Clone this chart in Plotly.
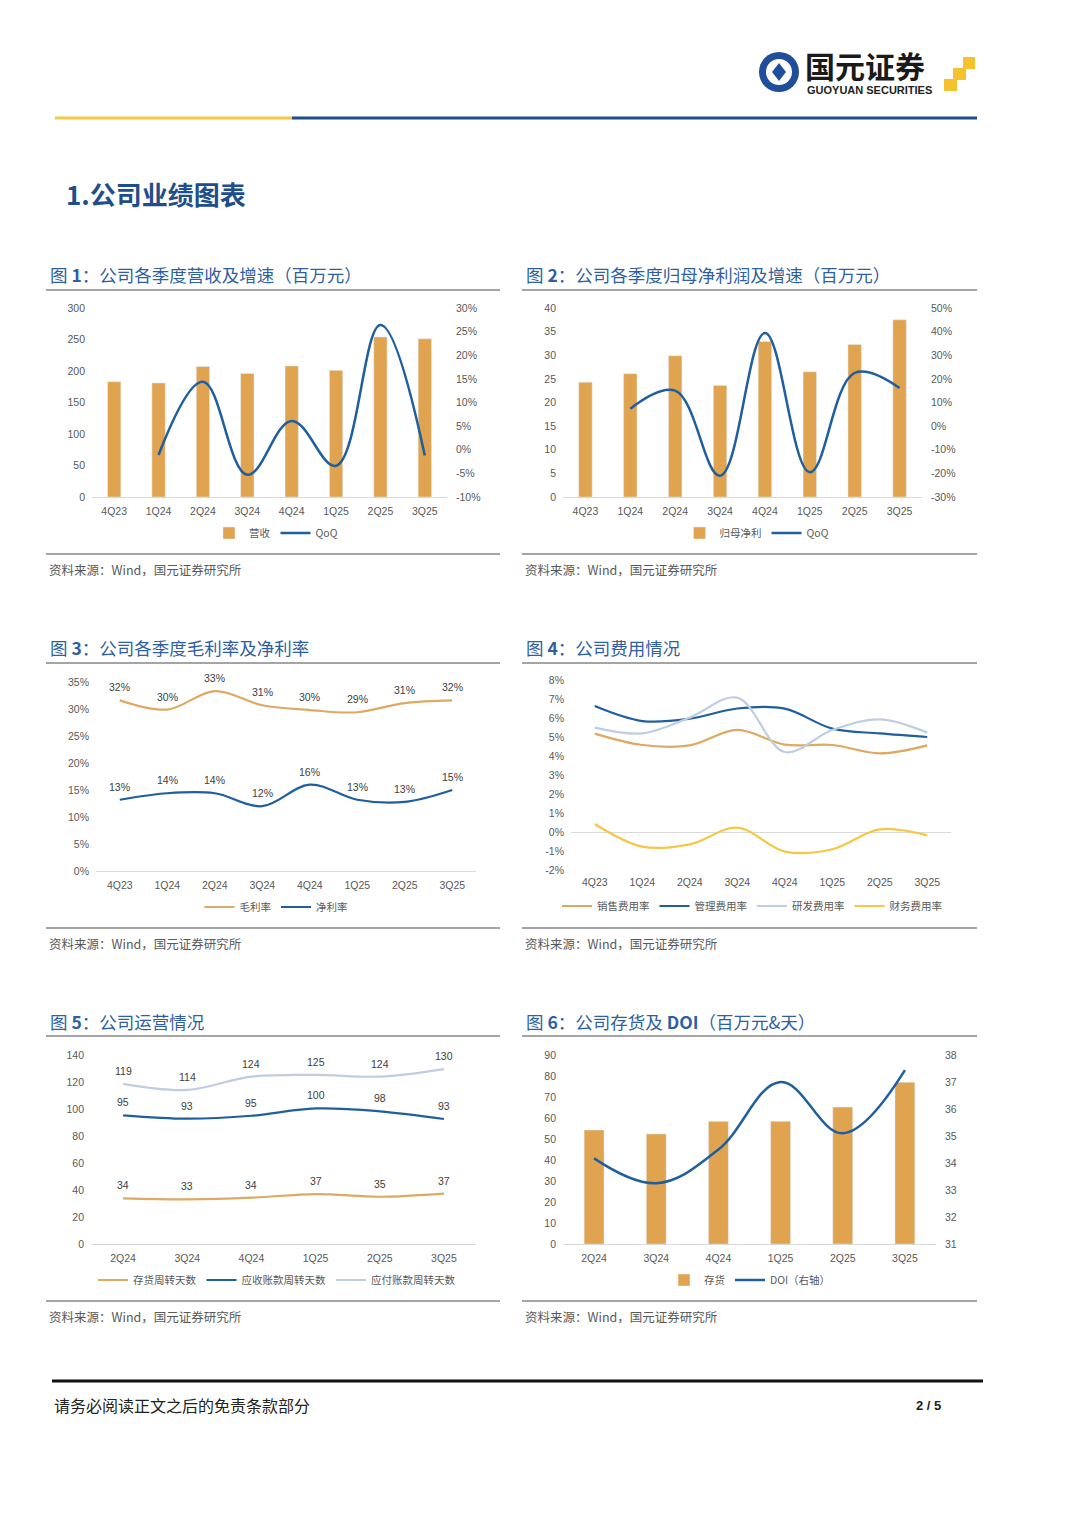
import plotly.graph_objects as go

# The page body keeps an 8px margin, so the figure is drawn 8px in and sized to fit.
OFF = 8
W, H = 1080 - OFF, 1527 - 2 * OFF


def px(x):
    return (x - OFF) / W


def py(y):
    return 1 - (y - OFF) / H


# ---------------- data ----------------
quarters8 = ["4Q23", "1Q24", "2Q24", "3Q24", "4Q24", "1Q25", "2Q25", "3Q25"]
quarters6 = ["2Q24", "3Q24", "4Q24", "1Q25", "2Q25", "3Q25"]

revenue = [183, 181, 207, 196, 208, 201, 254, 251]
revenue_qoq = [None, -0.011, 0.144, -0.053, 0.061, -0.034, 0.264, -0.012]

net_profit = [24.3, 26.1, 29.9, 23.6, 32.9, 26.5, 32.3, 37.5]
net_profit_qoq = [None, 0.074, 0.150, -0.210, 0.394, -0.195, 0.225, 0.161]

gross_margin = [0.316, 0.299, 0.333, 0.307, 0.298, 0.294, 0.311, 0.316]
net_margin = [0.132, 0.144, 0.144, 0.120, 0.160, 0.132, 0.128, 0.150]

sales_exp = [0.0518, 0.0458, 0.0456, 0.0537, 0.0460, 0.0458, 0.0414, 0.0456]
admin_exp = [0.0663, 0.0584, 0.0596, 0.0650, 0.0649, 0.0544, 0.0519, 0.0500]
rnd_exp = [0.0549, 0.0519, 0.0602, 0.0707, 0.0421, 0.0537, 0.0593, 0.0523]
fin_exp = [0.0042, -0.0077, -0.0065, 0.0023, -0.0103, -0.0091, 0.0014, -0.0018]

inv_days = [33.8, 33.1, 34.3, 37.0, 35.0, 37.3]
ar_days = [95.3, 92.8, 95.0, 100.4, 98.3, 92.6]
ap_days = [118.6, 114.1, 124.0, 125.3, 124.0, 129.6]

inventory = [54.3, 52.4, 58.4, 58.4, 65.2, 77.0]
doi = [34.17, 33.25, 34.5, 37.0, 35.1, 37.44]

# tick labels
c1_right_vals = [-0.10, -0.05, 0, 0.05, 0.10, 0.15, 0.20, 0.25, 0.30]
c1_right_text = ["-10%", "-5%", "0%", "5%", "10%", "15%", "20%", "25%", "30%"]
c2_right_vals = [-0.3, -0.2, -0.1, 0, 0.1, 0.2, 0.3, 0.4, 0.5]
c2_right_text = ["-30%", "-20%", "-10%", "0%", "10%", "20%", "30%", "40%", "50%"]
c3_vals = [0, 0.05, 0.10, 0.15, 0.20, 0.25, 0.30, 0.35]
c3_text = ["0%", "5%", "10%", "15%", "20%", "25%", "30%", "35%"]
c4_vals = [-0.02, -0.01, 0, 0.01, 0.02, 0.03, 0.04, 0.05, 0.06, 0.07, 0.08]
c4_text = ["-2%", "-1%", "0%", "1%", "2%", "3%", "4%", "5%", "6%", "7%", "8%"]

titles = [
    "图 <b>1</b>：公司各季度营收及增速（百万元）",
    "图 <b>2</b>：公司各季度归母净利润及增速（百万元）",
    "图 <b>3</b>：公司各季度毛利率及净利率",
    "图 <b>4</b>：公司费用情况",
    "图 <b>5</b>：公司运营情况",
    "图 <b>6</b>：公司存货及 <b>DOI</b>（百万元&天）",
]
source_text = "资料来源：Wind，国元证券研究所"

# ---------------- styles ----------------
BAR = "#E0A34F"
BLUE = "#1F5F9E"
TAN = "#DDAA62"
LIGHT = "#BFCDE2"
YELLOW = "#F4C846"
TICK = dict(family="Liberation Sans, Arial", size=10.5, color="#595959")
CJK = "Noto Sans CJK SC"
TITLE_C = "#2F5FA0"

fig = go.Figure()

# chart 1
fig.add_trace(go.Bar(x=quarters8, y=revenue, name="营收", marker_color=BAR, width=0.3,
                     xaxis="x", yaxis="y", legend="legend"))
fig.add_trace(go.Scatter(x=quarters8, y=revenue_qoq, name="QoQ", mode="lines",
                         line=dict(color=BLUE, width=2.5, shape="spline", smoothing=1.1),
                         xaxis="x", yaxis="y7", legend="legend"))
# chart 2
fig.add_trace(go.Bar(x=quarters8, y=net_profit, name="归母净利", marker_color=BAR, width=0.3,
                     xaxis="x2", yaxis="y2", legend="legend2"))
fig.add_trace(go.Scatter(x=quarters8, y=net_profit_qoq, name="QoQ", mode="lines",
                         line=dict(color=BLUE, width=2.5, shape="spline", smoothing=1.1),
                         xaxis="x2", yaxis="y8", legend="legend2"))
# chart 3
fig.add_trace(go.Scatter(x=quarters8, y=gross_margin, name="毛利率", mode="lines",
                         line=dict(color=TAN, width=2.2, shape="spline", smoothing=1.0),
                         xaxis="x3", yaxis="y3", legend="legend3"))
fig.add_trace(go.Scatter(x=quarters8, y=net_margin, name="净利率", mode="lines",
                         line=dict(color=BLUE, width=2.2, shape="spline", smoothing=1.0),
                         xaxis="x3", yaxis="y3", legend="legend3"))
# chart 4
for vals, nm, col in [(sales_exp, "销售费用率", TAN), (admin_exp, "管理费用率", BLUE),
                      (rnd_exp, "研发费用率", LIGHT), (fin_exp, "财务费用率", YELLOW)]:
    fig.add_trace(go.Scatter(x=quarters8, y=vals, name=nm, mode="lines",
                             line=dict(color=col, width=2.2, shape="spline", smoothing=1.0),
                             xaxis="x4", yaxis="y4", legend="legend4"))
# chart 5
for vals, nm, col in [(inv_days, "存货周转天数", TAN), (ar_days, "应收账款周转天数", BLUE),
                      (ap_days, "应付账款周转天数", LIGHT)]:
    fig.add_trace(go.Scatter(x=quarters6, y=vals, name=nm, mode="lines",
                             line=dict(color=col, width=2.2, shape="spline", smoothing=1.0),
                             xaxis="x5", yaxis="y5", legend="legend5"))
# chart 6
fig.add_trace(go.Bar(x=quarters6, y=inventory, name="存货", marker_color=BAR, width=0.32,
                     xaxis="x6", yaxis="y6", legend="legend6"))
fig.add_trace(go.Scatter(x=quarters6, y=doi, name="DOI（右轴）", mode="lines",
                         line=dict(color=BLUE, width=2.5, shape="spline", smoothing=1.1),
                         xaxis="x6", yaxis="y9", legend="legend6"))

# ---------------- axes ----------------
def xax(x0, x1, anchor, n, showline=True):
    return dict(domain=[px(x0), px(x1)], anchor=anchor, type="category",
                range=[-0.5, n - 0.5], autorange=False,
                showline=showline, linecolor="#D9D9D9", linewidth=1, automargin=False,
                showgrid=False, zeroline=False, ticks="", tickfont=TICK,
                ticklabelstandoff=4)


def yax(y0, y1, anchor, **kw):
    d = dict(domain=[py(y0), py(y1)], anchor=anchor, showgrid=False, zeroline=False,
             showline=False, ticks="", tickfont=TICK, automargin=False,
             ticklabelstandoff=6)
    d.update(kw)
    return d


def yright(over, anchor, **kw):
    d = dict(overlaying=over, anchor=anchor, side="right", showgrid=False,
             zeroline=False, ticks="", tickfont=TICK, automargin=False,
             ticklabelstandoff=8)
    d.update(kw)
    return d


layout = dict(
    width=W, height=H, margin=dict(l=0, r=0, t=0, b=0, autoexpand=False),
    paper_bgcolor="white", plot_bgcolor="white", showlegend=True,
    barmode="group",
    xaxis=xax(92, 447, "y", len(quarters8)),
    yaxis=yax(497, 308, "x", range=[0, 300], dtick=50),
    yaxis7=yright("y", "x", range=[-0.10, 0.30], tickvals=c1_right_vals,
                  ticktext=c1_right_text),
    xaxis2=xax(563, 922, "y2", len(quarters8)),
    yaxis2=yax(497, 308, "x2", range=[0, 40], dtick=5),
    yaxis8=yright("y2", "x2", range=[-0.30, 0.50], tickvals=c2_right_vals,
                  ticktext=c2_right_text),
    xaxis3=xax(96, 476, "y3", len(quarters8)),
    yaxis3=yax(871, 682, "x3", range=[0, 0.35], tickvals=c3_vals, ticktext=c3_text),
    xaxis4=xax(571, 951, "y4", len(quarters8), showline=False),
    yaxis4=yax(870, 680, "x4", range=[-0.02, 0.08], tickvals=c4_vals, ticktext=c4_text,
               zeroline=True, zerolinecolor="#D9D9D9", zerolinewidth=1),
    xaxis5=xax(91, 476, "y5", len(quarters6)),
    yaxis5=yax(1244, 1055, "x5", range=[0, 140], dtick=20),
    xaxis6=xax(563, 936, "y6", len(quarters6)),
    yaxis6=yax(1244, 1055, "x6", range=[0, 90], dtick=10),
    yaxis9=yright("y6", "x6", range=[31, 38], dtick=1),
)

leg_font = dict(family=CJK + ", Liberation Sans", size=10.5, color="#595959")
for key, cx, cy in [("legend", 276, 533), ("legend2", 757, 533), ("legend3", 276, 907),
                    ("legend4", 752, 906), ("legend5", 277, 1280), ("legend6", 750, 1280)]:
    layout[key] = dict(orientation="h", x=px(cx), xanchor="center", y=py(cy),
                       yanchor="middle", font=leg_font, bgcolor="rgba(0,0,0,0)",
                       itemwidth=30, tracegroupgap=0, traceorder="normal")

fig.update_layout(**layout)

# ---------------- annotations ----------------
ann = []


def data_labels(xs, ys, xa, ya, fmt):
    for xv, yv in zip(xs, ys):
        ann.append(dict(x=xv, y=yv, xref=xa, yref=ya, text=fmt(yv), showarrow=False,
                        yshift=13, font=dict(family="Liberation Sans, Arial", size=10.5,
                                             color="#404040")))


pct = lambda v: f"{v * 100:.0f}%"
num = lambda v: f"{v:.0f}"
data_labels(quarters8, gross_margin, "x3", "y3", pct)
data_labels(quarters8, net_margin, "x3", "y3", pct)
data_labels(quarters6, inv_days, "x5", "y5", num)
data_labels(quarters6, ar_days, "x5", "y5", num)
data_labels(quarters6, ap_days, "x5", "y5", num)

title_pos = [(48, 274), (524, 274), (48, 648), (524, 648), (48, 1021), (524, 1021)]
for t, (tx, ty) in zip(titles, title_pos):
    ann.append(dict(x=px(tx), y=py(ty), xref="paper", yref="paper", text=t, showarrow=False,
                    xanchor="left", yanchor="middle",
                    font=dict(family=CJK, size=17.5, color=TITLE_C)))

src_pos = [(47, 569), (523, 569), (47, 943), (523, 943), (47, 1316), (523, 1316)]
for sx, sy in src_pos:
    ann.append(dict(x=px(sx), y=py(sy), xref="paper", yref="paper", text=source_text,
                    showarrow=False, xanchor="left", yanchor="middle",
                    font=dict(family=CJK, size=12.5, color="#595959")))

# section heading
ann.append(dict(x=px(64), y=py(193), xref="paper", yref="paper", text="<b>1.公司业绩图表</b>",
                showarrow=False, xanchor="left", yanchor="middle",
                font=dict(family=CJK, size=26, color="#1F4E8C")))
# logo text
ann.append(dict(x=px(803), y=py(65), xref="paper", yref="paper", text="<b>国元证券</b>",
                showarrow=False, xanchor="left", yanchor="middle",
                font=dict(family=CJK, size=30, color="#1A1A1A")))
ann.append(dict(x=px(805), y=py(90), xref="paper", yref="paper", text="<b>GUOYUAN SECURITIES</b>",
                showarrow=False, xanchor="left", yanchor="middle",
                font=dict(family="Liberation Sans, Arial", size=11, color="#222222")))
# footer
ann.append(dict(x=px(52), y=py(1405), xref="paper", yref="paper", text="请务必阅读正文之后的免责条款部分",
                showarrow=False, xanchor="left", yanchor="middle",
                font=dict(family=CJK, size=16, color="#222222")))
ann.append(dict(x=px(943), y=py(1405), xref="paper", yref="paper", text="<b>2 / 5</b>",
                showarrow=False, xanchor="right", yanchor="middle",
                font=dict(family="Liberation Sans, Arial", size=13, color="#222222")))
fig.update_layout(annotations=ann)

# ---------------- shapes ----------------
shapes = []


def hline(x0, x1, y, color, width):
    shapes.append(dict(type="line", xref="paper", yref="paper", x0=px(x0), x1=px(x1),
                       y0=py(y), y1=py(y), line=dict(color=color, width=width)))


hline(55, 292, 118, "#F5C842", 3)
hline(292, 977, 118, "#1F4E8C", 3)
for (lx0, lx1) in [(46, 500), (522, 977)]:
    for yy in (290, 554, 663, 928, 1036, 1301):
        hline(lx0, lx1, yy, "#4A4A4A", 1)
hline(52, 983, 1381, "#111111", 3)

# logo circle
shapes.append(dict(type="circle", xref="paper", yref="paper", x0=px(759), x1=px(799),
                   y0=py(92), y1=py(52), fillcolor="#1F4F9A", line=dict(width=0)))
shapes.append(dict(type="circle", xref="paper", yref="paper", x0=px(766), x1=px(792),
                   y0=py(85), y1=py(59), fillcolor="white", line=dict(width=0)))
shapes.append(dict(type="path", xref="paper", yref="paper",
                   path=f"M {px(779)} {py(63)} L {px(786)} {py(72)} L {px(779)} {py(81)} L {px(772)} {py(72)} Z",
                   fillcolor="#1F4F9A", line=dict(width=0)))
for (a, b, c, d) in [(963, 975, 57, 69), (953, 966, 68, 80), (944, 957, 79, 91)]:
    shapes.append(dict(type="rect", xref="paper", yref="paper", x0=px(a), x1=px(b),
                       y0=py(d), y1=py(c), fillcolor="#F3C22C", line=dict(width=0)))
fig.update_layout(shapes=shapes)

fig.write_html("out.html")
